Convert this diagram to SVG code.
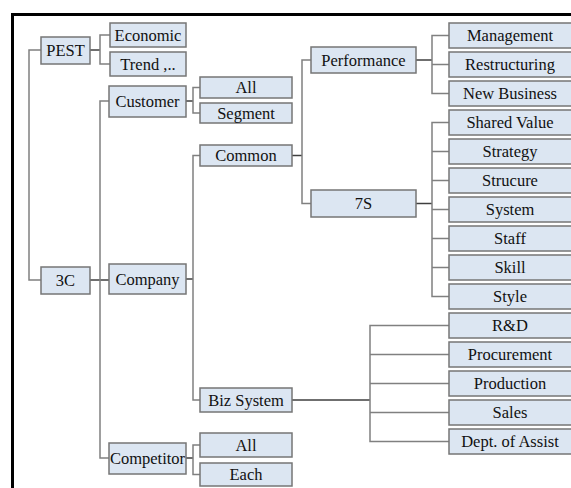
<svg xmlns="http://www.w3.org/2000/svg" width="571" height="488" viewBox="0 0 571 488">
<style>
.b{fill:#dce6f2;stroke:#767676;stroke-width:1.5}
.t{font-family:"Liberation Serif","Times New Roman",serif;font-size:16.5px;fill:#111;text-anchor:middle}
.c{fill:none;stroke:#808080;stroke-width:1.5}
.d{fill:none;stroke:#3f3f3f;stroke-width:1.5}
.f{fill:none;stroke:#000;stroke-width:3}
</style>
<rect width="571" height="488" fill="#fff"/>
<path class="f" d="M12.5,488 V14.5 H571"/>
<g id="connectors">
<path class="c" d="M41,50 H29 V280 H41"/>
<path class="d" d="M90,50 H100"/>
<path class="c" d="M110,35 H100 V64 H110"/>
<path class="d" d="M90,280 H109"/>
<path class="c" d="M109,101 H100 V458 H109"/>
<path class="d" d="M186,101 H193"/>
<path class="c" d="M200,87.5 H193 V113 H200"/>
<path class="d" d="M186,279 H193"/>
<path class="c" d="M200,155.5 H193 V400 H200"/>
<path class="d" d="M186,458 H193"/>
<path class="c" d="M200,445 H193 V474.5 H200"/>
<path class="d" d="M292,155.5 H302"/>
<path class="c" d="M311,60 H302 V203.5 H311"/>
<path class="d" d="M416,60 H432"/>
<path class="c" d="M449,35.5 H432 V93.5 H449 M432,64.5 H449"/>
<path class="d" d="M416,203.5 H432"/>
<path class="c" d="M449,122.5 H432 V296.5 H449 M432,151.5 H449 M432,180.5 H449 M432,209.5 H449 M432,238.5 H449 M432,267.5 H449"/>
<path class="d" d="M292,400 H370"/>
<path class="c" d="M449,325.5 H370 V441.5 H449 M370,354.5 H449 M370,383.5 H449 M370,412.5 H449"/>
</g>
<g id="pest"><rect class="b" x="41" y="37" width="49" height="27"/><text class="t" x="65.5" y="56">PEST</text></g>
<g id="economic"><rect class="b" x="110" y="23" width="76" height="24"/><text class="t" x="148" y="40.5">Economic</text></g>
<g id="trend"><rect class="b" x="110" y="52" width="76" height="24"/><text class="t" x="148" y="69.5">Trend ,..</text></g>
<g id="3c"><rect class="b" x="41" y="267" width="49" height="27"/><text class="t" x="65.5" y="286">3C</text></g>
<g id="customer"><rect class="b" x="109" y="86" width="77" height="31"/><text class="t" x="147.5" y="107">Customer</text></g>
<g id="company"><rect class="b" x="109" y="264" width="77" height="30"/><text class="t" x="147.5" y="285">Company</text></g>
<g id="competitor"><rect class="b" x="109" y="443" width="77" height="31"/><text class="t" x="147.5" y="464">Competitor</text></g>
<g id="cust-all"><rect class="b" x="200" y="77" width="92" height="21"/><text class="t" x="246" y="93">All</text></g>
<g id="cust-segment"><rect class="b" x="200" y="103" width="92" height="20"/><text class="t" x="246" y="118.5">Segment</text></g>
<g id="common"><rect class="b" x="200" y="145" width="92" height="21"/><text class="t" x="246" y="161">Common</text></g>
<g id="bizsystem"><rect class="b" x="200" y="388" width="92" height="24"/><text class="t" x="246" y="405.5">Biz System</text></g>
<g id="comp-all"><rect class="b" x="200" y="433" width="92" height="24"/><text class="t" x="246" y="450.5">All</text></g>
<g id="comp-each"><rect class="b" x="200" y="463" width="92" height="23"/><text class="t" x="246" y="480">Each</text></g>
<g id="performance"><rect class="b" x="311" y="47" width="105" height="26"/><text class="t" x="363.5" y="65.5">Performance</text></g>
<g id="7s"><rect class="b" x="311" y="190" width="105" height="27"/><text class="t" x="363.5" y="209">7S</text></g>
<g id="management"><rect class="b" x="449" y="23" width="124" height="25"/><text class="t" x="510" y="41">Management</text></g>
<g id="restructuring"><rect class="b" x="449" y="52" width="124" height="25"/><text class="t" x="510" y="70">Restructuring</text></g>
<g id="newbusiness"><rect class="b" x="449" y="81" width="124" height="25"/><text class="t" x="510" y="99">New Business</text></g>
<g id="sharedvalue"><rect class="b" x="449" y="110" width="124" height="25"/><text class="t" x="510" y="128">Shared Value</text></g>
<g id="strategy"><rect class="b" x="449" y="139" width="124" height="25"/><text class="t" x="510" y="157">Strategy</text></g>
<g id="strucure"><rect class="b" x="449" y="168" width="124" height="25"/><text class="t" x="510" y="186">Strucure</text></g>
<g id="system"><rect class="b" x="449" y="197" width="124" height="25"/><text class="t" x="510" y="215">System</text></g>
<g id="staff"><rect class="b" x="449" y="226" width="124" height="25"/><text class="t" x="510" y="244">Staff</text></g>
<g id="skill"><rect class="b" x="449" y="255" width="124" height="25"/><text class="t" x="510" y="273">Skill</text></g>
<g id="style"><rect class="b" x="449" y="284" width="124" height="25"/><text class="t" x="510" y="302">Style</text></g>
<g id="rnd"><rect class="b" x="449" y="313" width="124" height="25"/><text class="t" x="510" y="331">R&amp;D</text></g>
<g id="procurement"><rect class="b" x="449" y="342" width="124" height="25"/><text class="t" x="510" y="360">Procurement</text></g>
<g id="production"><rect class="b" x="449" y="371" width="124" height="25"/><text class="t" x="510" y="389">Production</text></g>
<g id="sales"><rect class="b" x="449" y="400" width="124" height="25"/><text class="t" x="510" y="418">Sales</text></g>
<g id="dept"><rect class="b" x="449" y="429" width="124" height="25"/><text class="t" x="510" y="447">Dept. of Assist</text></g>
</svg>
